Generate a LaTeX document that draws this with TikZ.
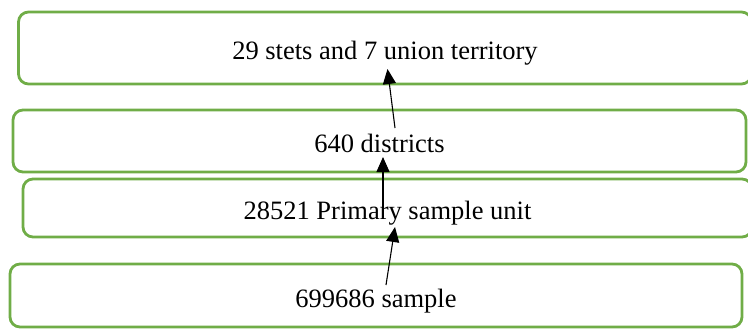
\documentclass[tikz,border=0pt]{standalone}
\usepackage{fontspec}
\setmainfont{Liberation Serif}
\usetikzlibrary{arrows.meta,calc}
\definecolor{boxgreen}{HTML}{70AD47}
\tikzset{
  level/.style={draw=boxgreen, line width=2.8pt, rounded corners=10pt,
    fill=white, inner sep=0pt, text height=23pt, text depth=0pt,
    font=\fontsize{26.5}{30}\selectfont},
  uparrow/.style={-{Triangle[length=15pt,width=13pt]}, line width=1.1pt, black}
}
\begin{document}
\begin{tikzpicture}[x=1pt,y=-1pt]
\useasboundingbox (0,0) rectangle (748,329);
\clip (0,0) rectangle (748,329);
% the four levels of the sampling hierarchy
\node[level, minimum width=733pt, minimum height=72pt] (b1) at (385,48) {29 stets and 7 union territory};
\node[level, minimum width=733pt, minimum height=62pt] (b2) at (379.5,141) {640 districts};
\node[level, minimum width=729pt, minimum height=58pt] (b3) at (387.5,208) {28521 Primary sample unit};
\node[level, minimum width=732pt, minimum height=63pt] (b4) at (376,295.5) {699686 sample};
% arrows pointing up the hierarchy
\draw[uparrow] ($(b4.center)+(10,-10.5)$) -- ($(b3.center)+(7.5,19)$);
\draw[uparrow] ($(b3.center)+(-4.5,9)$) -- ($(b2.center)+(3.5,16)$);
\draw[uparrow] ($(b2.center)+(15.5,-13)$) -- ($(b1.center)+(2.5,21)$);
\end{tikzpicture}
\end{document}
